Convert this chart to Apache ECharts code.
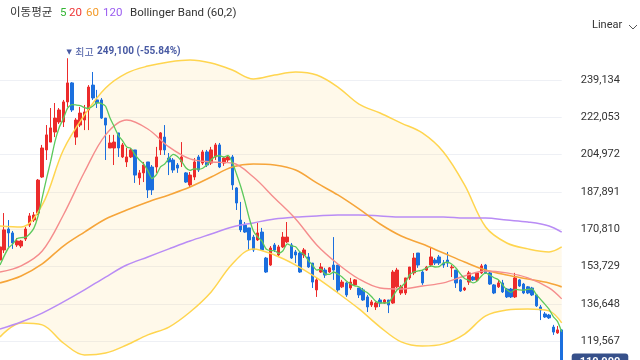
<!DOCTYPE html>
<html><head><meta charset="utf-8">
<script src="https://cdn.jsdelivr.net/npm/echarts@6/dist/echarts.min.js"></script>
<style>html,body{margin:0;padding:0;background:#fff}#c{width:640px;height:360px}</style>
</head><body><div id="c"></div>
<script>
// ---- candle data (KRW) ----
const opens = [
156700,161300,170900,169100,163600,163100,166300,172700,175000,178200,
194700,207100,210700,215300,219900,219900,229100,237800,213000,218500,
220800,225400,236800,230000,230000,221700,208000,208000,214900,203900,
201600,203900,207100,194300,196600,201600,199300,199300,207100,213000,
203400,202500,200200,201600,196600,191100,194700,203900,201100,206200,
201100,203900,209400,201100,202500,203900,189700,175000,172700,171400,
167200,165900,169500,157600,154400,163600,159000,162700,165000,163600,
160400,159900,159000,158100,155300,143000,151200,152100,151200,154400,
154400,144400,146200,143900,145300,143900,143000,139800,136100,135200,
138400,137000,138400,137000,144400,141600,141600,148500,150800,159900,
151200,152100,154400,156700,158100,155300,156700,153100,152100,147600,
143000,146600,148900,147600,150800,154400,150800,145300,144400,146200,
143400,143400,139800,147600,145700,144400,143900,140700,135200,132000,
131500,126000,123300,124700];
const closes = [
162700,170500,169100,164500,165400,165400,170900,176900,177300,193300,
208000,214000,217200,221700,225400,229100,237800,225400,220800,224000,
224500,235900,230900,228600,221700,218500,210300,210700,208000,209400,
203900,207100,195600,196600,200200,188800,188800,203900,214900,207100,
201600,197900,198800,203900,192400,195600,201600,197900,206200,200200,
207100,209400,199300,203400,203900,191100,182800,170500,169500,165900,
161300,169100,161300,151200,162200,161300,162700,167200,167200,157600,
159000,151200,161300,153500,146600,147600,153500,149800,153100,152100,
143000,146600,140700,146600,147600,140700,138400,135200,137500,137000,
137000,138400,136100,151200,152100,144400,148500,153500,157600,154400,
146200,153500,158100,155300,155300,154400,155300,153500,146200,142500,
143900,150800,147600,150800,154000,150800,145700,141600,146200,142100,
139800,139800,148500,144800,141600,141600,140700,135700,133800,130600,
130200,123700,124700,110000];
const lows = [
155800,159900,162700,161800,162700,162200,165400,171800,174100,177300,
194300,202500,210700,213000,219000,217600,226800,224500,209400,217600,
216200,216200,230000,226300,221300,202500,208000,200200,203900,203400,
199300,203400,192000,191100,192400,185100,186500,196600,204800,204800,
195600,196600,196600,199300,192000,190100,193300,197000,200200,199300,
200200,202500,198800,199800,201600,188800,179600,169500,169100,161300,
160400,165400,160900,150800,154000,160400,158100,162200,164500,157200,
155300,150800,157600,153100,143900,139800,150800,148500,150800,147600,
142100,143900,139800,143000,144800,139300,138000,132900,135200,133800,
135200,136600,132400,136600,143900,140700,140700,147600,149800,153100,
145300,151700,153500,154400,154400,153100,153500,148900,143900,142100,
142500,145300,147100,147100,150300,150300,145300,141100,143900,141600,
139300,139300,139300,144400,141100,141100,140200,135200,129200,130200,
129700,122400,122900,109800];
const highs = [
163600,178200,175000,170000,166800,165900,171800,178200,178700,193800,
209400,218500,226300,228600,226300,230000,249100,238200,221700,226800,
227700,236800,242800,234600,230900,221700,214000,214000,214900,210300,
208000,208000,207100,197900,201600,201600,200200,208500,215300,218500,
205700,203400,201100,210700,197000,197000,203400,204800,207100,207100,
208500,210300,210300,203900,204800,204800,190100,183300,174100,171400,
168200,173700,171400,158100,163100,164500,163600,169500,174100,164500,
161300,160400,162200,159900,155300,148500,155300,153100,153500,167200,
154400,147600,146600,148500,148000,143900,143900,140700,138400,137500,
139300,138800,138400,152100,153100,145300,148500,153500,159900,159900,
152100,154000,162200,157600,159000,156700,160400,154400,152100,148000,
144400,151700,149400,151200,154900,154900,151200,145700,147600,147600,
143900,143900,150800,148000,146200,144800,144400,141100,136100,132900,
132000,127000,126500,125000];

const ma5Lead = [154400,158600,162200,164000];
const sampleIdx = [0,5,10,15,20,25,30,35,40,45,50,55,60,65,70,75,80,85,90,95,100,105,110,115,120,125,130,133];
const bbUpper = [172300,171800,181900,207100,223100,235500,242300,245500,247400,248300,246900,243700,239600,241400,242800,241400,235900,228100,224000,219400,214900,206200,191100,171800,164500,161800,160400,162700];
const bbLower = [121500,127900,127000,118700,113200,114100,117800,122400,126000,132900,142100,154900,161800,159000,154400,148500,141600,134300,126000,119200,117300,118300,122800,131100,133800,134300,133400,127900];
const ma20Vals = [151200,154000,160800,177300,197000,214000,220800,216700,208500,203000,201600,201100,194700,185100,175500,163600,154900,148000,143900,143400,144800,146200,149400,151700,150800,148500,143900,138900];
const ma60Vals = [146200,149400,154900,163100,169500,175500,179600,183300,186500,190100,194700,199300,200700,200200,197900,192000,186500,180100,173200,167700,164000,159900,155800,152100,149800,148000,146200,144400];
const ma120Vals = [125100,128300,132400,137500,143000,148900,154400,158100,161800,165400,168600,171800,173700,175500,176400,176900,177300,177300,176900,176400,176400,176400,175900,175900,175000,174100,172300,169500];

// ---- y axis tick labels ----
const yTicks = [119567,136648,153729,170810,187891,204972,222053,239134];

const categories = opens.map((_, i) => 'D' + (i + 1));
const candles = opens.map((o, i) => [o, closes[i], lows[i], highs[i]]);
const ma5 = closes.map((c, i) => i < 4 ? ma5Lead[i] :
  Math.round((closes[i] + closes[i-1] + closes[i-2] + closes[i-3] + closes[i-4]) / 5));
const pairs = vals => sampleIdx.map((ix, k) => [ix, vals[k]]);
const bandWidth = bbUpper.map((u, k) => u - bbLower[k]);

const interval = yTicks[1] - yTicks[0];
const yMin = yTicks[0] - interval;
const yMax = yTicks[yTicks.length - 1] + 2 * interval;
const gridColors = [];
for (let t = yMin; t <= yMax; t += interval) gridColors.push(yTicks.includes(t) ? '#eef0f5' : 'rgba(0,0,0,0)');
const fmt = v => Math.round(v).toLocaleString('en-US');
const lastClose = closes[closes.length - 1];

const UP = '#ec2b2b', DOWN = '#1b6fde';
const LATIN = 'Roboto, "Noto Sans CJK KR", sans-serif';
const KR = '"Noto Sans CJK KR", Roboto, sans-serif';
const SM = 0.35;

const chart = echarts.init(document.getElementById('c'), null, {renderer: 'canvas'});
chart.setOption({
  animation: false,
  backgroundColor: '#fff',
  grid: {left: 0, right: 78.3, top: 5.4, height: 373, outerBoundsMode: 'none', containLabel: false},
  xAxis: {type: 'category', data: categories, boundaryGap: false, show: false},
  yAxis: {
    type: 'value', position: 'right', min: yMin, max: yMax, interval: interval,
    axisLine: {show: false}, axisTick: {show: false},
    axisLabel: {margin: 19, color: '#333', fontSize: 11, fontFamily: LATIN,
      formatter: v => yTicks.includes(v) ? fmt(v) : ''},
    splitLine: {show: true, lineStyle: {color: gridColors, width: 1}}
  },
  series: [
    {name: 'bbBase', type: 'line', data: pairs(bbLower), stack: 'bb', symbol: 'none', smooth: SM,
      lineStyle: {opacity: 0}, silent: true, z: 1},
    {name: 'bbFill', type: 'line', data: pairs(bandWidth), stack: 'bb', symbol: 'none', smooth: SM,
      lineStyle: {opacity: 0}, areaStyle: {color: 'rgba(255,224,140,0.26)'}, silent: true, z: 1},
    {name: 'candles', type: 'candlestick', data: candles, barWidth: 3, z: 3,
      itemStyle: {color: UP, color0: DOWN, borderColor: UP, borderColor0: DOWN, borderWidth: 1},
      markPoint: {
        symbol: 'circle', symbolSize: 1, itemStyle: {color: 'rgba(0,0,0,0)'},
        data: [{type: 'max', valueDim: 'highest'}],
        label: {
          show: true, position: 'top', distance: 0, align: 'left', offset: [-1, 0],
          formatter: p => '{t|▼} {k|최고} {n|' + fmt(p.value) + ' (' + ((lastClose / p.value - 1) * 100).toFixed(2) + '%)}',
          rich: {
            t: {fontSize: 7, color: '#4759a3', fontFamily: '"DejaVu Sans"'},
            k: {fontSize: 10, color: '#4759a3', fontFamily: KR},
            n: {fontSize: 10, color: '#4759a3', fontWeight: 'bold', fontFamily: LATIN}
          }
        }
      },
      markLine: {
        symbol: ['none', 'none'], silent: true,
        data: [{yAxis: lastClose}],
        lineStyle: {color: '#36508a', type: 'dashed', width: 1},
        label: {show: true, position: 'end', distance: 10, formatter: p => fmt(p.value),
          backgroundColor: '#36508a', color: '#fff', padding: [3, 8], borderRadius: 3,
          fontSize: 11, fontWeight: 'bold', fontFamily: LATIN}
      }
    },
    {name: 'upper', type: 'line', data: pairs(bbUpper), symbol: 'none', smooth: SM,
      lineStyle: {color: '#ffd54f', width: 1.5}, z: 4},
    {name: 'lower', type: 'line', data: pairs(bbLower), symbol: 'none', smooth: SM,
      lineStyle: {color: '#ffd54f', width: 1.5}, z: 4},
    {name: 'MA120', type: 'line', data: pairs(ma120Vals), symbol: 'none', smooth: SM,
      lineStyle: {color: '#b98cf5', width: 1.5}, z: 5},
    {name: 'MA60', type: 'line', data: pairs(ma60Vals), symbol: 'none', smooth: SM,
      lineStyle: {color: '#f6a53a', width: 1.6}, z: 5},
    {name: 'MA20', type: 'line', data: pairs(ma20Vals), symbol: 'none', smooth: SM,
      lineStyle: {color: '#f58d8d', width: 1.4}, z: 5},
    {name: 'MA5', type: 'line', data: ma5, symbol: 'none', smooth: 0.2,
      lineStyle: {color: '#5cc95c', width: 1.3}, z: 6}
  ],
  graphic: [
    {type: 'text', left: 10, top: 6, style: {text: '이동평균', fill: '#333', font: '11.5px ' + KR}},
    {type: 'text', left: 60, top: 7, style: {text: '5', fill: '#34b534', font: '11.5px ' + LATIN}},
    {type: 'text', left: 69, top: 7, style: {text: '20', fill: '#ee3535', font: '11.5px ' + LATIN}},
    {type: 'text', left: 86, top: 7, style: {text: '60', fill: '#f39a28', font: '11.5px ' + LATIN}},
    {type: 'text', left: 103, top: 7, style: {text: '120', fill: '#9a5cf0', font: '11.5px ' + LATIN}},
    {type: 'text', left: 130, top: 7, style: {text: 'Bollinger Band (60,2)', fill: '#333', font: '11.5px ' + LATIN}},
    {type: 'text', left: 592, top: 20, style: {text: 'Linear', fill: '#333', font: '11px ' + LATIN}},
    {type: 'polyline', shape: {points: [[629, 25], [633, 29], [637, 25]]}, style: {stroke: '#555', lineWidth: 1, fill: null}}
  ]
});
</script></body></html>
